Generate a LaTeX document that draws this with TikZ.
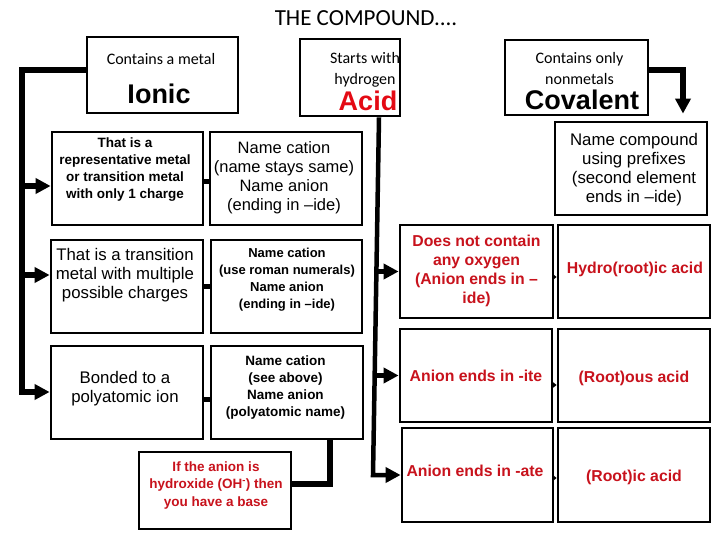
\documentclass[tikz,border=0pt]{standalone}
\usepackage{fontspec}
\setmainfont{Liberation Sans}
\newfontfamily\calfont{Carlito}
\usetikzlibrary{arrows.meta}
\definecolor{txtred}{RGB}{200,18,28}
\definecolor{acidred}{RGB}{228,10,20}
\begin{document}
\begin{tikzpicture}[x=1pt,y=-1pt,
  box/.style={draw=black, line width=2.8pt, fill=white, inner sep=0pt},
  conn/.style={line width=5.5pt, line join=miter},
  aconn/.style={line width=4.5pt, line join=miter},
  tipbig/.style={-{Triangle[length=15pt,width=15pt]}},
  stub/.style={line width=5pt},
  smallstub/.style={line width=2.2pt, -{Triangle[length=4pt,width=6pt]}},
  tc/.style={inner sep=0pt, align=center},
  calS/.style={tc, font=\calfont\fontsize{16}{21}\selectfont},
  big/.style={tc, font=\bfseries\fontsize{27}{30}\selectfont},
  bsmall/.style={tc, font=\bfseries\fontsize{13.5}{17}\selectfont},
  reg/.style={tc, font=\fontsize{16.8}{19}\selectfont},
  rbold/.style={tc, text=txtred, font=\bfseries\fontsize{15.8}{19}\selectfont},
  rsmall/.style={tc, text=txtred, font=\bfseries\fontsize{13.5}{17.5}\selectfont}
]
\useasboundingbox (0,0) rectangle (720,540);
\fill[white] (0,0) rectangle (720,540);

% title
\node[tc, font=\calfont\fontsize{23}{26}\selectfont] (title) at (366,18) {THE COMPOUND....};

% top boxes
\node[box, minimum width=151pt, minimum height=76pt] (ionic) at (162.5,75) {};
\node[box, minimum width=100pt, minimum height=77pt] (acid) at (350,77.5) {};
\node[box, minimum width=143pt, minimum height=75pt] (cov) at (576.5,77.5) {};
\node[calS] (ionicA) at (161,59) {Contains a metal};
\node[big] (ionicB) at (159,94) {Ionic};
\node[calS] (acidA) at (365,69.5) {Starts with\\hydrogen};
\node[big, text=acidred] (acidB) at (368,101) {Acid};
\node[calS] (covA) at (579.5,69) {Contains only\\nonmetals};
\node[big] (covB) at (582,100) {Covalent};

% ionic column boxes
\node[box, minimum width=151pt, minimum height=93pt] (L1) at (127.5,178.5) {};
\node[box, minimum width=152pt, minimum height=93pt] (R1) at (286,178.5) {};
\node[box, minimum width=152pt, minimum height=93pt] (L2) at (127,286.5) {};
\node[box, minimum width=151pt, minimum height=93pt] (R2) at (286.5,286.5) {};
\node[box, minimum width=152pt, minimum height=93pt] (L3) at (127,392.5) {};
\node[box, minimum width=152pt, minimum height=93pt] (R3) at (287,392.5) {};
\node[box, minimum width=152pt, minimum height=77pt] (base) at (215,490.5) {};

\node[bsmall] (tL1) at (125,169.5) {That is a\\representative metal\\or transition metal\\with only 1 charge};
\node[reg, font=\fontsize{16.5}{19}\selectfont] (tR1) at (284,177.5) {Name cation\\(name stays same)\\Name anion\\(ending in –ide)};
\node[reg] (tL2) at (125,275) {That is a transition\\metal with multiple\\possible charges};
\node[bsmall, font=\bfseries\fontsize{13}{17}\selectfont] (tR2) at (287,279.5) {Name cation\\(use roman numerals)\\Name anion\\(ending in –ide)};
\node[reg] (tL3) at (125,388.5) {Bonded to a\\polyatomic ion};
\node[bsmall, font=\bfseries\fontsize{13.5}{17}\selectfont] (tR3) at (285.5,387.5) {Name cation\\(see above)\\Name anion\\(polyatomic name)};
\node[rsmall] (tbase) at (216,485.5) {If the anion is\\hydroxide (OH\textsuperscript{-}) then\\you have a base};

% covalent / acid column boxes
\node[box, minimum width=152pt, minimum height=93pt] (NC) at (631,168.5) {};
\node[box, minimum width=153pt, minimum height=93pt] (D1) at (476.5,271.5) {};
\node[box, minimum width=152pt, minimum height=93pt] (H1) at (634,271.5) {};
\node[box, minimum width=152pt, minimum height=93pt] (D2) at (476,375.5) {};
\node[box, minimum width=152pt, minimum height=93pt] (H2) at (634,375.5) {};
\node[box, minimum width=151pt, minimum height=94pt] (D3) at (477.5,475) {};
\node[box, minimum width=152pt, minimum height=94pt] (H3) at (634,475) {};

\node[reg] (tNC) at (634,169.5) {Name compound\\using prefixes\\(second element\\ends in –ide)};
\node[rbold] (tD1) at (476.5,270.5) {Does not contain\\any oxygen\\(Anion ends in –\\ide)};
\node[rbold] (tH1) at (635,269) {Hydro(root)ic acid};
\node[rbold] (tD2) at (476,376) {Anion ends in -ite};
\node[rbold] (tH2) at (634,378) {(Root)ous acid};
\node[rbold] (tD3) at (475,471) {Anion ends in -ate};
\node[rbold] (tH3) at (634,477) {(Root)ic acid};

% ionic connectors
\coordinate (lt) at (22,70);
\coordinate (lb) at (22,392);
\coordinate (a1) at (22,186);
\coordinate (a2) at (22,275);
\draw[conn, tipbig] (ionic.west |- lt) -- (lt) -- (lb) -- (lb -| L3.west);
\draw[conn, tipbig] (a1) -- (a1 -| L1.west);
\draw[conn, tipbig] (a2) -- (a2 -| L2.west);
\draw[stub] ([yshift=-3.5pt]L1.east) -- ([yshift=-3.5pt]R1.west);
\draw[stub] (L2.east) -- (R2.west);
\draw[stub] ([yshift=-6.5pt]L3.east) -- ([yshift=-6.5pt]R3.west);
\coordinate (bc) at (330,484);
\draw[conn] (R3.south -| bc) -- (bc) -- (bc -| base.east);

% acid connectors
\coordinate (atop) at (379,116);
\coordinate (ab) at (373,475);
\coordinate (b1) at (376.4,271.5);
\coordinate (b2) at (374.7,375.5);
\draw[aconn, tipbig] (acid.south -| atop) -- (ab) -- (ab -| D3.west);
\draw[aconn, tipbig] (b1) -- (b1 -| D1.west);
\draw[aconn, tipbig] (b2) -- (b2 -| D2.west);
\draw[smallstub] ([yshift=-5.5pt]D1.east) -- ([yshift=-5.5pt]H1.west);
\draw[smallstub] ([yshift=-9.5pt]D2.east) -- ([yshift=-9.5pt]H2.west);
\draw[smallstub] ([yshift=-3pt]D3.east) -- ([yshift=-3pt]H3.west);

% covalent connector
\coordinate (ct) at (683,70);
\draw[conn, tipbig, shorten >=7pt] (cov.east |- ct) -- (ct) -- (ct |- NC.north);
\end{tikzpicture}
\end{document}
